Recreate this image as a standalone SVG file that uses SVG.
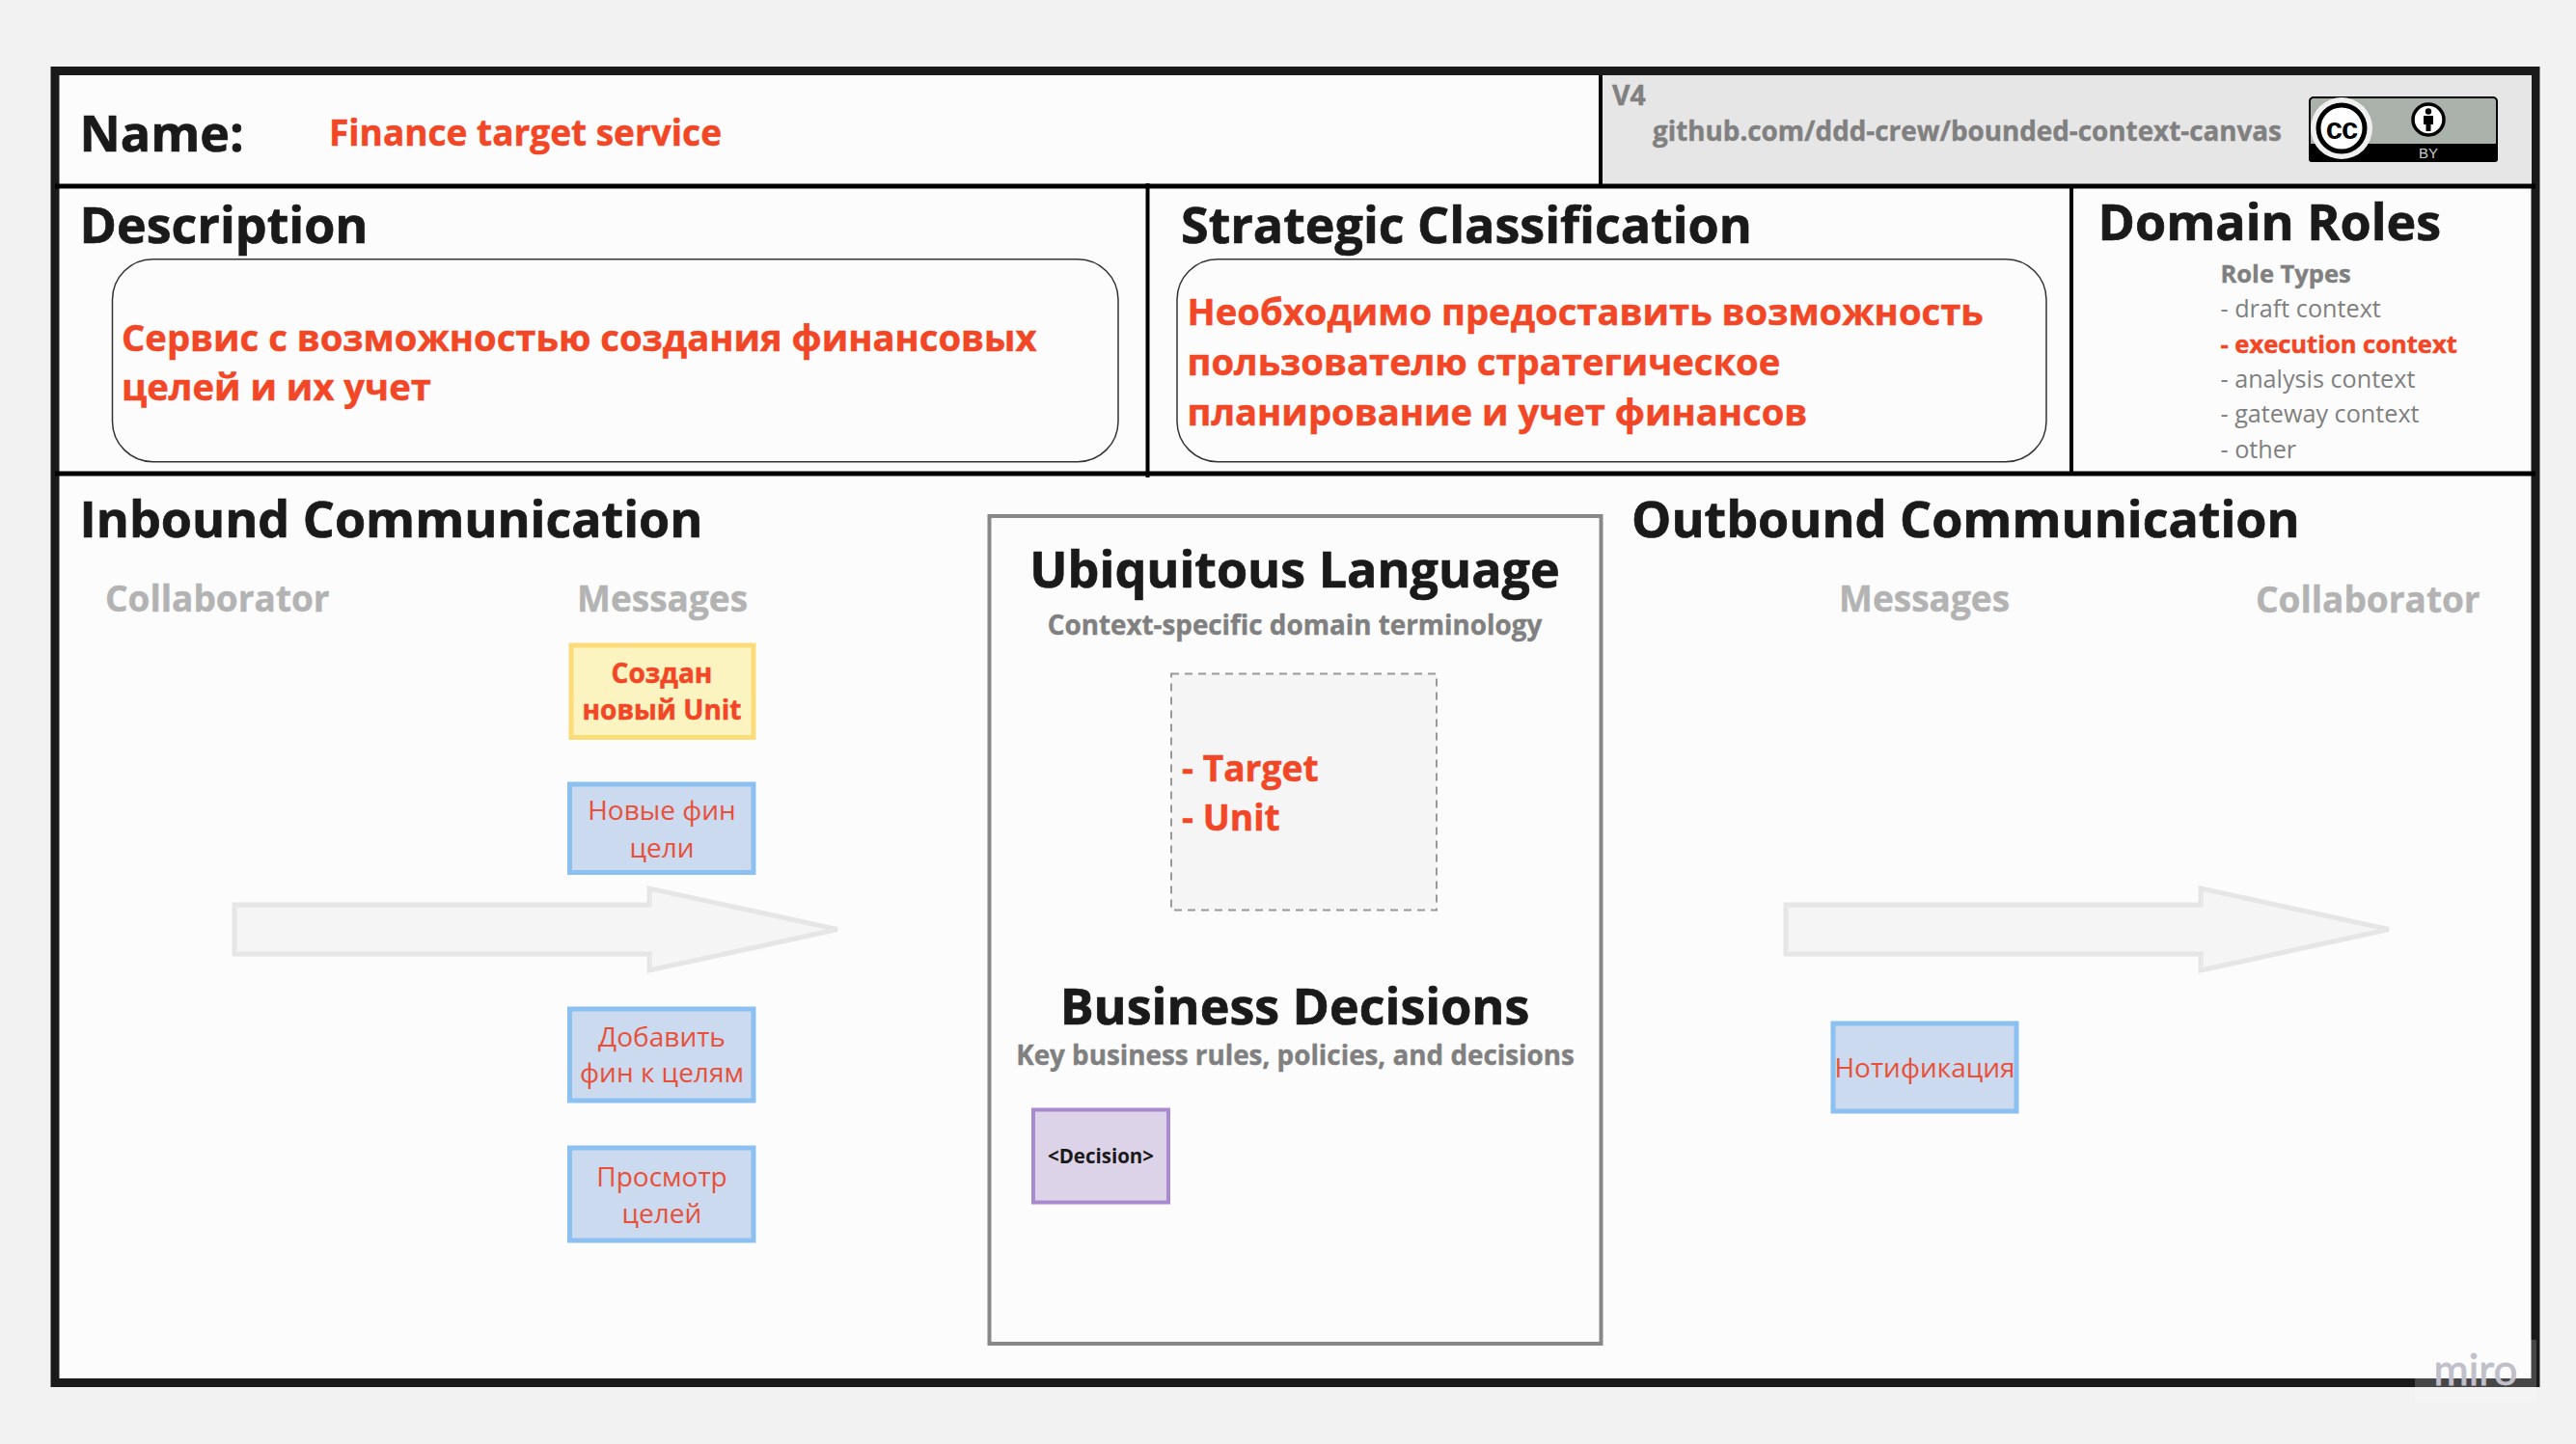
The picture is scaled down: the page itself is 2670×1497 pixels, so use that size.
<svg xmlns="http://www.w3.org/2000/svg" width="2670" height="1497" viewBox="0 0 2670 1497">
<style>
text{font-family:"Open Sans","Noto Sans",sans-serif}
.h{font-weight:700;fill:#1a1a1a;stroke:#1a1a1a;stroke-width:.7px;font-size:52px}
.red{fill:#f24726;stroke:#f24726;stroke-width:.5px}
.b{font-weight:700}
.sub{font-weight:700;fill:#808080;stroke:#808080;stroke-width:.4px}
.col{font-weight:700;fill:#b3b3b3;stroke:#b3b3b3;stroke-width:.4px;font-size:37px}
.m{text-anchor:middle}
.yel{fill:#fbf3c0;stroke:#fbdc78;stroke-width:5}
.blu{fill:#cbdaee;stroke:#8cc0f0;stroke-width:5}
.msg{font-size:28px;fill:#e8503a;text-anchor:middle}
.role{font-size:25.200px;fill:#808080}
.arr{fill:#f5f5f5;stroke:#e6e6e6;stroke-width:5}
.desc{fill:none;stroke:#333;stroke-width:1.500}
</style>
<defs><radialGradient id="halo" cx="2427" cy="133" r="75" gradientUnits="userSpaceOnUse"><stop offset="0.4" stop-color="#f0f0f0"/><stop offset="1" stop-color="#aab2ab"/></radialGradient></defs>
<rect width="2670" height="1497" fill="#f2f2f2"/>
<g id="frame">
<rect x="57" y="73.500" width="2571" height="1360" fill="#fcfcfc" stroke="#1a1a1a" stroke-width="9"/>
<rect x="1659" y="78" width="965" height="113" fill="#e6e6e6"/>
<path d="M57 193H2628M57 491H2628" stroke="#000" stroke-width="5" fill="none"/>
<path d="M1659 78V191M1189.500 190V495M2147 193V491" stroke="#000" stroke-width="4" fill="none"/>
</g>
<g id="name">
<text x="82.500" y="157" class="h">Name:</text>
<text x="341" y="151" class="b red" font-size="37">Finance target service</text>
</g>
<g id="version">
<text x="1671" y="109" class="sub" font-size="28.500">V4</text>
<text x="1713" y="146" class="sub" font-size="27.800">github.com/ddd-crew/bounded-context-canvas</text>
<g id="cc-badge">
<rect x="2394" y="101" width="194" height="66" rx="4" fill="#aab2ab" stroke="#000" stroke-width="2"/>
<path d="M2393 149H2589V165a3 3 0 0 1-3 3H2396a3 3 0 0 1-3-3Z" fill="#000"/>
<circle cx="2427" cy="133" r="32" fill="url(#halo)"/>
<circle cx="2427" cy="133" r="24" fill="#fff" stroke="#000" stroke-width="5"/>
<text x="2427" y="144" text-anchor="middle" font-size="31" font-weight="700" style="font-family:'Liberation Sans',sans-serif" fill="#000" letter-spacing="-1">cc</text>
<circle cx="2517" cy="124" r="16" fill="#fff" stroke="#000" stroke-width="3.500"/>
<circle cx="2517" cy="115.500" r="3.200" fill="#000"/>
<path d="M2512 120H2522V129H2519.500V136H2514.500V129H2512Z" fill="#000"/>
<text x="2517" y="164" text-anchor="middle" font-size="15" fill="#ccc" style="font-family:'Liberation Sans',sans-serif">BY</text>
</g>
</g>
<g id="description">
<text x="82.500" y="252" class="h">Description</text>
<rect x="116.500" y="268.700" width="1042.500" height="210" rx="42" class="desc"/>
<text class="b red" font-size="38.200"><tspan x="126" y="363.500">Сервис с возможностью создания финансовых</tspan><tspan x="126" y="415">целей и их учет</tspan></text>
</g>
<g id="strategic-classification">
<text x="1224" y="252" class="h">Strategic Classification</text>
<rect x="1220" y="268.700" width="901" height="210" rx="42" class="desc"/>
<text class="b red" font-size="38.200"><tspan x="1230.500" y="337">Необходимо предоставить возможность</tspan><tspan x="1230.500" y="389">пользователю стратегическое</tspan><tspan x="1230.500" y="441">планирование и учет финансов</tspan></text>
</g>
<g id="domain-roles">
<text x="2174.500" y="249" class="h">Domain Roles</text>
<text x="2301.500" y="293" class="sub" font-size="25.500">Role Types</text>
<text x="2301.500" y="329" class="role">- draft context</text>
<text x="2301.500" y="366" class="b red" font-size="25.500">- execution context</text>
<text x="2301.500" y="402" class="role">- analysis context</text>
<text x="2301.500" y="438" class="role">- gateway context</text>
<text x="2301.500" y="475" class="role">- other</text>
</g>
<g id="inbound">
<text x="82.500" y="557" class="h">Inbound Communication</text>
<text x="109" y="634" class="col">Collaborator</text>
<text x="598" y="634" class="col">Messages</text>
</g>
<g id="outbound">
<text x="1691" y="557" class="h">Outbound Communication</text>
<text x="1906" y="634" class="col">Messages</text>
<text x="2338" y="635" class="col">Collaborator</text>
</g>
<g id="connectors">
<path class="arr" d="M243 938H673V921L868 963.500L673 1006V989H243Z"/>
<path class="arr" d="M1851 938H2281V921L2476 963.500L2281 1006V989H1851Z"/>
</g>
<g id="msg-created">
<rect x="592" y="669" width="189" height="95.500" class="yel"/>
<text class="b m red" font-size="28"><tspan x="686" y="708">Создан</tspan><tspan x="686" y="746">новый Unit</tspan></text>
</g>
<g id="msg-new-goals">
<rect x="590.500" y="813" width="190.500" height="91.500" class="blu"/>
<text class="msg"><tspan x="686" y="850">Новые фин</tspan><tspan x="686" y="889">цели</tspan></text>
</g>
<g id="msg-add">
<rect x="590.500" y="1046" width="190.500" height="95" class="blu"/>
<text class="msg"><tspan x="686" y="1085">Добавить</tspan><tspan x="686" y="1122">фин к целям</tspan></text>
</g>
<g id="msg-view">
<rect x="590.500" y="1190" width="190.500" height="96" class="blu"/>
<text class="msg"><tspan x="686" y="1230">Просмотр</tspan><tspan x="686" y="1268">целей</tspan></text>
</g>
<g id="msg-notification">
<rect x="1900" y="1061" width="190" height="91" class="blu"/>
<text class="msg" x="1995" y="1117">Нотификация</text>
</g>
<g id="core">
<rect x="1025.500" y="535" width="634" height="858" fill="#fcfcfc" stroke="#888" stroke-width="4"/>
<text x="1342" y="609" class="h m">Ubiquitous Language</text>
<text x="1342" y="658" class="sub m" font-size="27.800">Context-specific domain terminology</text>
<rect x="1214" y="698.500" width="275" height="245" fill="#f5f5f5" stroke="#999" stroke-width="2" stroke-dasharray="8 6"/>
<text class="b red" font-size="37.200"><tspan x="1225" y="810">- Target</tspan><tspan x="1225" y="861">- Unit</tspan></text>
<text x="1342" y="1062" class="h m">Business Decisions</text>
<text x="1342.500" y="1104" class="sub m" font-size="27.800">Key business rules, policies, and decisions</text>
</g>
<g id="decision">
<rect x="1071" y="1150.500" width="140" height="96" fill="#ddd3e8" stroke="#a98ad0" stroke-width="4"/>
<text x="1141" y="1206" class="m" font-size="20.500" font-weight="700" fill="#1a1a1a">&lt;Decision&gt;</text>
</g>
<g id="miro-watermark">
<rect x="2503" y="1389" width="126" height="66" fill="#fff" opacity="0.2"/>
<text x="2566" y="1436" text-anchor="middle" font-size="44" fill="#c0bfca" stroke="#c0bfca" stroke-width=".8" style="font-family:Lato,sans-serif">miro</text>
</g>
</svg>
